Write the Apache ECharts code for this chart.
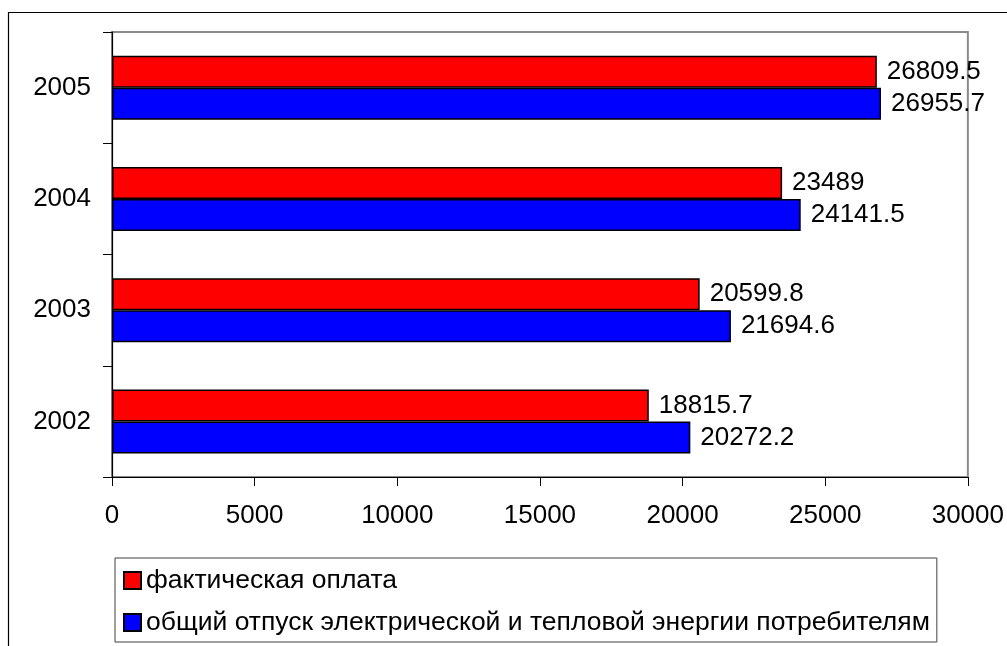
<!DOCTYPE html>
<html>
<head>
<meta charset="utf-8">
<script src="https://cdn.jsdelivr.net/npm/echarts@6/dist/echarts.min.js"></script>
<style>
  html, body { margin: 0; padding: 0; background: #fff; }
  #chart { width: 1007px; height: 646px; }
</style>
</head>
<body>
<div id="chart"></div>
<script>
// Years on the category axis (bottom to top)
const years = ['2002', '2003', '2004', '2005'];
// Actual payment received
const payment = [18815.7, 20599.8, 23489, 26809.5];
// Total electric and heat energy supplied to consumers
const supply = [20272.2, 21694.6, 24141.5, 26955.7];
// Value axis ticks
const xMin = 0, xMax = 30000, xStep = 5000;

const paymentName = 'фактическая оплата';
const supplyName = 'общий отпуск электрической и тепловой энергии потребителям';

const FONT = '"Liberation Sans", Arial, sans-serif';
const chart = echarts.init(document.getElementById('chart'), null, { renderer: 'canvas' });

const labelStyle = {
  show: true,
  position: 'right',
  distance: 10,
  color: '#000',
  fontSize: 26,
  fontFamily: FONT
};

chart.setOption({
  animation: false,
  backgroundColor: '#fff',
  textStyle: { fontFamily: FONT },
  graphic: [{
    type: 'rect',
    shape: { x: 8.5, y: 12.5, width: 1100, height: 700 },
    style: { fill: 'none', stroke: '#000', lineWidth: 1.2 },
    silent: true,
    z: -10
  }],
  grid: {
    left: 112, top: 32, right: 38, bottom: 169,
    show: true,
    borderColor: '#8a8a8a',
    borderWidth: 2
  },
  xAxis: {
    type: 'value',
    min: xMin, max: xMax, interval: xStep,
    axisLine: { show: true, lineStyle: { color: '#000', width: 1.2 } },
    axisTick: { show: true, inside: false, length: 9, lineStyle: { color: '#000' } },
    splitLine: { show: false },
    axisLabel: {
      color: '#000', fontSize: 26, fontFamily: FONT, margin: 26,
      formatter: v => String(v)
    }
  },
  yAxis: {
    type: 'category',
    data: years,
    axisLine: { show: true, lineStyle: { color: '#000', width: 1.2 } },
    axisTick: { show: true, inside: false, length: 9, lineStyle: { color: '#000' } },
    axisLabel: { color: '#000', fontSize: 26, fontFamily: FONT, margin: 21 }
  },
  legend: {
    orient: 'vertical',
    left: 115, top: 558,
    padding: [9, 7, 6, 8],
    itemGap: 15,
    itemWidth: 17, itemHeight: 17,
    icon: 'rect',
    borderColor: '#404040', borderWidth: 1,
    data: [paymentName, supplyName],
    textStyle: { color: '#000', fontSize: 26.5, lineHeight: 26, fontFamily: FONT },
    selectedMode: false
  },
  series: [
    {
      name: paymentName,
      type: 'bar',
      data: payment,
      barWidth: 32,
      barGap: '0%',
      itemStyle: { color: '#ff0000', borderColor: '#000', borderWidth: 1.5 },
      label: labelStyle
    },
    {
      name: supplyName,
      type: 'bar',
      data: supply,
      barWidth: 32,
      barGap: '0%',
      itemStyle: { color: '#0000ff', borderColor: '#000', borderWidth: 1.5 },
      label: labelStyle
    }
  ]
});
</script>
</body>
</html>
